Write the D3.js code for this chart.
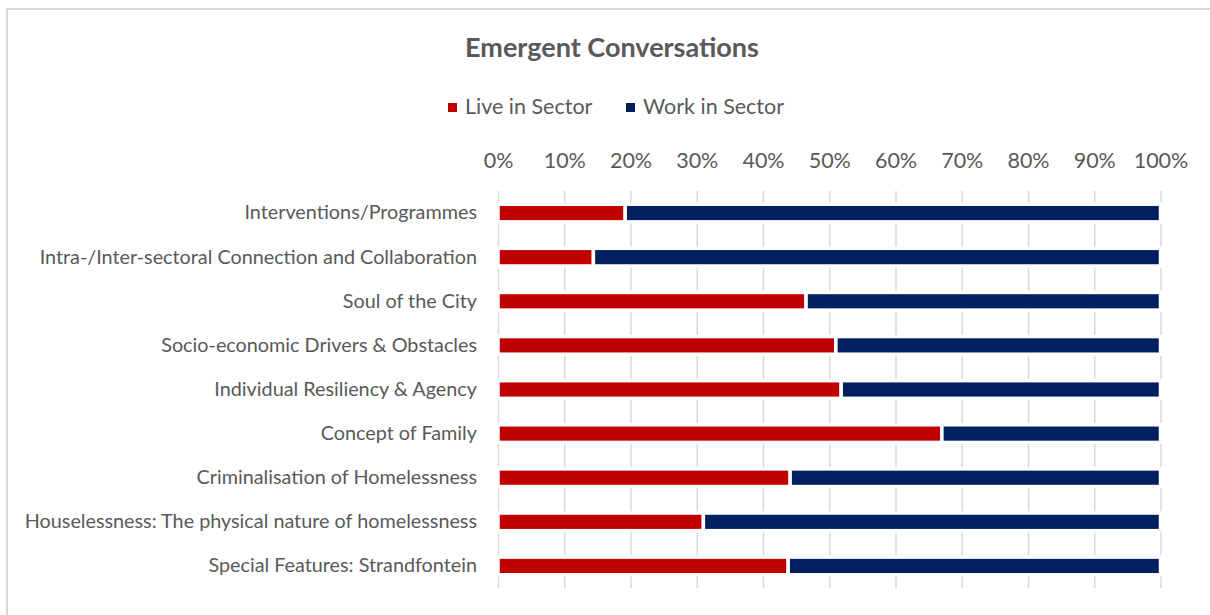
<!DOCTYPE html>
<html>
<head>
<meta charset="utf-8">
<script src="https://cdn.jsdelivr.net/npm/d3@7"></script>
<style>
  body { margin: 0; background: #fff; }
  text { font-family: Lato, "Open Sans", sans-serif; fill: #595959; }
</style>
</head>
<body>
<div id="chart"></div>
<script>
// 100% stacked bars: who raised each emergent conversation
const categories = [
  "Interventions/Programmes",
  "Intra-/Inter-sectoral Connection and Collaboration",
  "Soul of the City",
  "Socio-economic Drivers & Obstacles",
  "Individual Resiliency & Agency",
  "Concept of Family",
  "Criminalisation of Homelessness",
  "Houselessness: The physical nature of homelessness",
  "Special Features: Strandfontein"
]
const liveInSector = [19.2, 14.4, 46.5, 51.0, 51.8, 67.0, 44.1, 31.0, 43.8]
const workInSector = [80.8, 85.6, 53.5, 49.0, 48.2, 33.0, 55.9, 69.0, 56.2]
const seriesNames = ["Live in Sector", "Work in Sector"]
const seriesColors = ["#c00000", "#002060"]
const tickValues = [0, 10, 20, 30, 40, 50, 60, 70, 80, 90, 100]

const W = 1210, H = 615
const margin = {top: 191, right: 50, bottom: 27, left: 498},
	width = 1160.5 - margin.left,
	height = H - margin.top - margin.bottom

const svg = d3.select("#chart")
	.append("svg")
		.attr("width", W)
		.attr("height", H)

// chart frame, runs off the right and bottom of the picture
svg.append("rect")
	.attr("x", 7).attr("y", 9)
	.attr("width", 1300).attr("height", 700)
	.attr("fill", "none")
	.attr("stroke", "#d9d9d9")
	.attr("stroke-width", 2)

svg.append("text")
	.attr("x", 612).attr("y", 57)
	.attr("text-anchor", "middle")
	.style("font-size", "27px")
	.style("font-weight", "bold")
	.text("Emergent Conversations")

// legend
const legendX = [448, 626]
const legend = svg.append("g")
	.selectAll("g")
	.data(seriesNames)
	.join("g")
		.attr("transform", (d, i) => `translate(${legendX[i]}, 0)`)
legend.append("rect")
	.attr("x", 0).attr("y", 103)
	.attr("width", 9).attr("height", 9)
	.attr("fill", (d, i) => seriesColors[i])
legend.append("text")
	.attr("x", 17).attr("y", 114)
	.style("font-size", "21.5px")
	.text(d => d)

const g = svg.append("g")
	.attr("transform", `translate(${margin.left}, ${margin.top})`)

const x = d3.scaleLinear()
	.domain([0, 100])
	.range([0, width])

const y = d3.scaleBand()
	.domain(categories)
	.range([0, height])
	.paddingInner(0.6)
	.paddingOuter(0.3)

// gridlines
g.append("g")
	.call(d3.axisTop(x).tickValues(tickValues).tickSize(-height).tickFormat(""))
	.call(a => a.select(".domain").remove())
	.call(a => a.selectAll("line").attr("stroke", "#d9d9d9").attr("stroke-width", 1.5))

// tick labels
g.append("g")
	.attr("transform", "translate(0, -20)")
	.call(d3.axisTop(x).tickValues(tickValues).tickSize(0).tickFormat(d => d + "%"))
	.call(a => a.select(".domain").remove())
	.call(a => a.selectAll("text").style("font-size", "21.5px").attr("fill", "#595959"))

// category labels
g.append("g")
	.attr("transform", "translate(-18, 0)")
	.call(d3.axisLeft(y).tickSize(0))
	.call(a => a.select(".domain").remove())
	.call(a => a.selectAll("text").style("font-size", "19.8px").attr("fill", "#595959"))

const rows = categories.map((c, i) => ({cat: c, live: liveInSector[i], work: workInSector[i]}))
const stack = d3.stack().keys(["live", "work"])(rows)

g.append("g")
	.selectAll("g")
	.data(stack)
	.join("g")
		.attr("fill", (d, i) => seriesColors[i])
	.selectAll("rect")
	.data(d => d)
	.join("rect")
		.attr("x", d => x(d[0]))
		.attr("width", d => x(d[1]) - x(d[0]))
		.attr("y", d => y(d.data.cat))
		.attr("height", y.bandwidth())
		.attr("stroke", "#fff")
		.attr("stroke-width", 3.5)
</script>
</body>
</html>
